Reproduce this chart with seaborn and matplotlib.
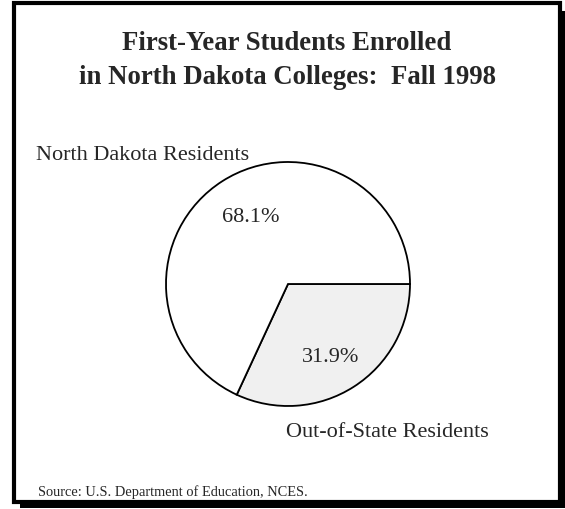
import matplotlib
matplotlib.use("Agg")
import matplotlib.pyplot as plt
import seaborn as sns
from matplotlib.patches import Rectangle

# Data
groups = ["Out-of-State Residents", "North Dakota Residents"]
shares = [31.9, 68.1]
slice_colors = ["#f0f0f0", "#ffffff"]
title_lines = ["First-Year Students Enrolled", "in North Dakota Colleges:  Fall 1998"]
source_note = "Source: U.S. Department of Education, NCES."

sns.set_theme(style="white")
plt.rcParams["font.family"] = ["Liberation Serif", "DejaVu Serif"]

W, H = 565, 510
fig = plt.figure(figsize=(W / 100, H / 100), dpi=100)
ax = fig.add_axes([0, 0, 1, 1])

# pie (pixel coords, y measured from the bottom)
cx, cy, r = 288, H - 285, 122
ax.pie(shares, colors=slice_colors, startangle=0, counterclock=False,
       center=(cx, cy), radius=r,
       wedgeprops=dict(edgecolor="black", linewidth=1.3))

# frame with drop shadow
ax.add_patch(Rectangle((20, 1), 545, 497, facecolor="black", edgecolor="none", zorder=0))
ax.add_patch(Rectangle((13.5, H - 502.5), 546, 499, facecolor="white",
                       edgecolor="black", linewidth=3, zorder=0.5))

ax.set_xlim(0, W)
ax.set_ylim(0, H)
ax.set_aspect("equal")
ax.axis("off")

ax.text(287, H - 43, title_lines[0], ha="center", va="center",
        fontsize=19.3, fontweight="bold")
ax.text(287, H - 78, title_lines[1], ha="center", va="center",
        fontsize=19.3, fontweight="bold")

ax.text(36, H - 155, groups[1], ha="left", va="center", fontsize=16)
ax.text(251, H - 218, f"{shares[1]}%", ha="center", va="center", fontsize=16)
ax.text(331, H - 357, f"{shares[0]}%", ha="center", va="center", fontsize=16)
ax.text(387, H - 433, groups[0], ha="center", va="center", fontsize=16)

ax.text(38, H - 492, source_note, ha="left", va="center", fontsize=10.4)

fig.savefig("out.png", dpi=100)
